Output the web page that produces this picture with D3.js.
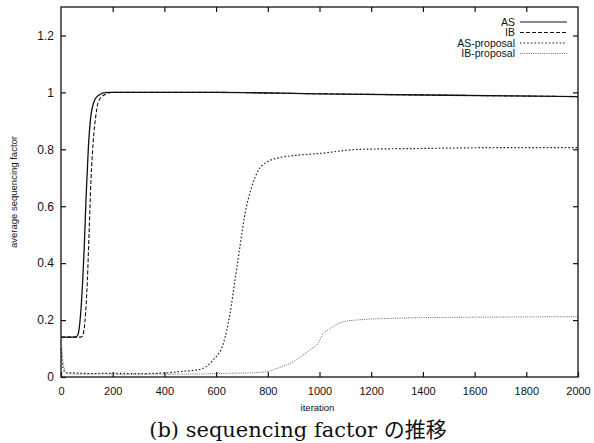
<!DOCTYPE html>
<html>
<head>
<meta charset="utf-8">
<script src="https://cdn.jsdelivr.net/npm/d3@7"></script>
<style>
  body { margin: 0; background: #fff; }
</style>
</head>
<body>
<div id="chart"></div>
<script>
// Series data: iteration -> average sequencing factor
const asIter = [0, 40, 60, 67, 76, 84, 90, 97, 106, 115, 125, 144, 177, 250, 600, 1000, 1500, 2000];
const asVal = [0.14, 0.14, 0.142, 0.153, 0.223, 0.34, 0.457, 0.633, 0.808, 0.913, 0.96, 0.989, 1.0, 1.0, 1.0, 0.995, 0.99, 0.985];

const ibIter = [0, 60, 80, 89, 95, 102, 109, 116, 125, 134, 144, 164, 202, 300, 600, 1000, 1500, 2000];
const ibVal = [0.14, 0.14, 0.141, 0.165, 0.223, 0.34, 0.516, 0.691, 0.832, 0.913, 0.966, 0.989, 1.0, 1.0, 1.0, 0.995, 0.99, 0.985];

const asPropIter = [0, 8, 20, 60, 120, 200, 300, 400, 460, 538, 589, 628, 654, 673, 692, 712, 738, 763, 796, 847, 912, 995, 1157, 1400, 1700, 2000];
const asPropVal = [0.1, 0.03, 0.015, 0.014, 0.012, 0.013, 0.012, 0.014, 0.019, 0.027, 0.06, 0.118, 0.223, 0.34, 0.457, 0.574, 0.668, 0.726, 0.755, 0.771, 0.779, 0.785, 0.8, 0.803, 0.806, 0.806];

const ibPropIter = [0, 10, 25, 80, 160, 250, 350, 450, 550, 650, 750, 800, 847, 899, 937, 970, 989, 1015, 1041, 1092, 1169, 1273, 1363, 1600, 1800, 2000];
const ibPropVal = [0.14, 0.04, 0.012, 0.01, 0.011, 0.009, 0.01, 0.01, 0.011, 0.013, 0.015, 0.02, 0.034, 0.054, 0.077, 0.1, 0.112, 0.153, 0.17, 0.194, 0.202, 0.206, 0.208, 0.21, 0.211, 0.212];

const seriesNames = ["AS", "IB", "AS-proposal", "IB-proposal"];
const xTicks = [0, 200, 400, 600, 800, 1000, 1200, 1400, 1600, 1800, 2000];
const yTicks = [0, 0.2, 0.4, 0.6, 0.8, 1, 1.2];

const width = 594, height = 443;
const margin = { left: 61, right: 16, top: 7, bottom: 66 };
const sans = "'Liberation Sans', Arial, Helvetica, sans-serif";

const svg = d3.select("#chart").append("svg")
    .attr("width", width)
    .attr("height", height)
    .attr("font-family", sans);

svg.append("rect").attr("width", width).attr("height", height).attr("fill", "#fff");

const x = d3.scaleLinear().domain([0, 2000]).range([margin.left, width - margin.right]);
const y = d3.scaleLinear().domain([0, 1.3]).range([height - margin.bottom, margin.top]);

// frame
svg.append("rect")
    .attr("x", x(0)).attr("y", y(1.3))
    .attr("width", x(2000) - x(0)).attr("height", y(0) - y(1.3))
    .attr("fill", "none").attr("stroke", "#111").attr("stroke-width", 1.3);

// gnuplot style inward ticks on all four sides
const fmtY = d => d === 0 ? "0" : d3.format("~g")(d);
const tickLen = 5;

svg.append("g")
    .attr("transform", `translate(0,${y(0)})`)
    .call(d3.axisBottom(x).tickValues(xTicks).tickSize(-tickLen).tickPadding(10).tickFormat(d3.format("d")))
    .call(g => g.select(".domain").remove())
    .call(g => g.selectAll("text").attr("font-size", 11));

svg.append("g")
    .attr("transform", `translate(0,${y(1.3)})`)
    .call(d3.axisTop(x).tickValues(xTicks.slice(1, -1)).tickSize(-tickLen).tickFormat(""))
    .call(g => g.select(".domain").remove());

svg.append("g")
    .attr("transform", `translate(${x(0)},0)`)
    .call(d3.axisLeft(y).tickValues(yTicks).tickSize(-tickLen).tickPadding(7).tickFormat(fmtY))
    .call(g => g.select(".domain").remove())
    .call(g => g.selectAll("text").attr("font-size", 12));

svg.append("g")
    .attr("transform", `translate(${x(2000)},0)`)
    .call(d3.axisRight(y).tickValues(yTicks.slice(1)).tickSize(-tickLen).tickFormat(""))
    .call(g => g.select(".domain").remove());

svg.selectAll(".tick line").attr("stroke", "#111").attr("stroke-width", 1.2);
svg.selectAll("g").attr("font-family", sans);
svg.selectAll(".tick text").attr("fill", "#111");

// axis titles
svg.append("text")
    .attr("transform", `translate(17,${(y(0) + y(1.3)) / 2}) rotate(-90)`)
    .attr("text-anchor", "middle")
    .attr("font-size", 9.5)
    .attr("fill", "#111")
    .text("average sequencing factor");

svg.append("text")
    .attr("x", (x(0) + x(2000)) / 2 - 2)
    .attr("y", 411)
    .attr("text-anchor", "middle")
    .attr("font-size", 9.5)
    .attr("fill", "#111")
    .text("iteration");

// caption
svg.append("text")
    .attr("x", 298)
    .attr("y", 437)
    .attr("text-anchor", "middle")
    .attr("font-size", 21)
    .attr("fill", "#111")
    .attr("font-family", "'DejaVu Serif', 'Liberation Serif', 'Noto Sans CJK JP', serif")
    .text("(b) sequencing factor の推移");

// lines
const styles = [
    { dash: null, width: 1.3, color: "#111" },
    { dash: "4,2", width: 1.1, color: "#111" },
    { dash: "1.6,2", width: 1.2, color: "#222" },
    { dash: "1,1.2", width: 0.9, color: "#555" }
];
const series = [
    d3.zip(asIter, asVal),
    d3.zip(ibIter, ibVal),
    d3.zip(asPropIter, asPropVal),
    d3.zip(ibPropIter, ibPropVal)
];

const line = d3.line()
    .x(d => x(d[0]))
    .y(d => y(d[1]))
    .curve(d3.curveMonotoneX);

svg.append("g").selectAll("path")
    .data(series)
    .join("path")
    .attr("d", line)
    .attr("fill", "none")
    .attr("stroke", (d, i) => styles[i].color)
    .attr("stroke-width", (d, i) => styles[i].width)
    .attr("stroke-dasharray", (d, i) => styles[i].dash);

// legend
const legend = svg.append("g").selectAll("g")
    .data(seriesNames)
    .join("g")
    .attr("transform", (d, i) => `translate(0,${22 + i * 10.5})`);

legend.append("text")
    .attr("x", 515)
    .attr("dy", "0.35em")
    .attr("text-anchor", "end")
    .attr("font-size", 10.5)
    .attr("fill", "#111")
    .text(d => d);

legend.append("line")
    .attr("x1", 520).attr("x2", 567)
    .attr("stroke", (d, i) => styles[i].color)
    .attr("stroke-width", (d, i) => Math.min(styles[i].width, 1))
    .attr("stroke-dasharray", (d, i) => styles[i].dash);
</script>
</body>
</html>
